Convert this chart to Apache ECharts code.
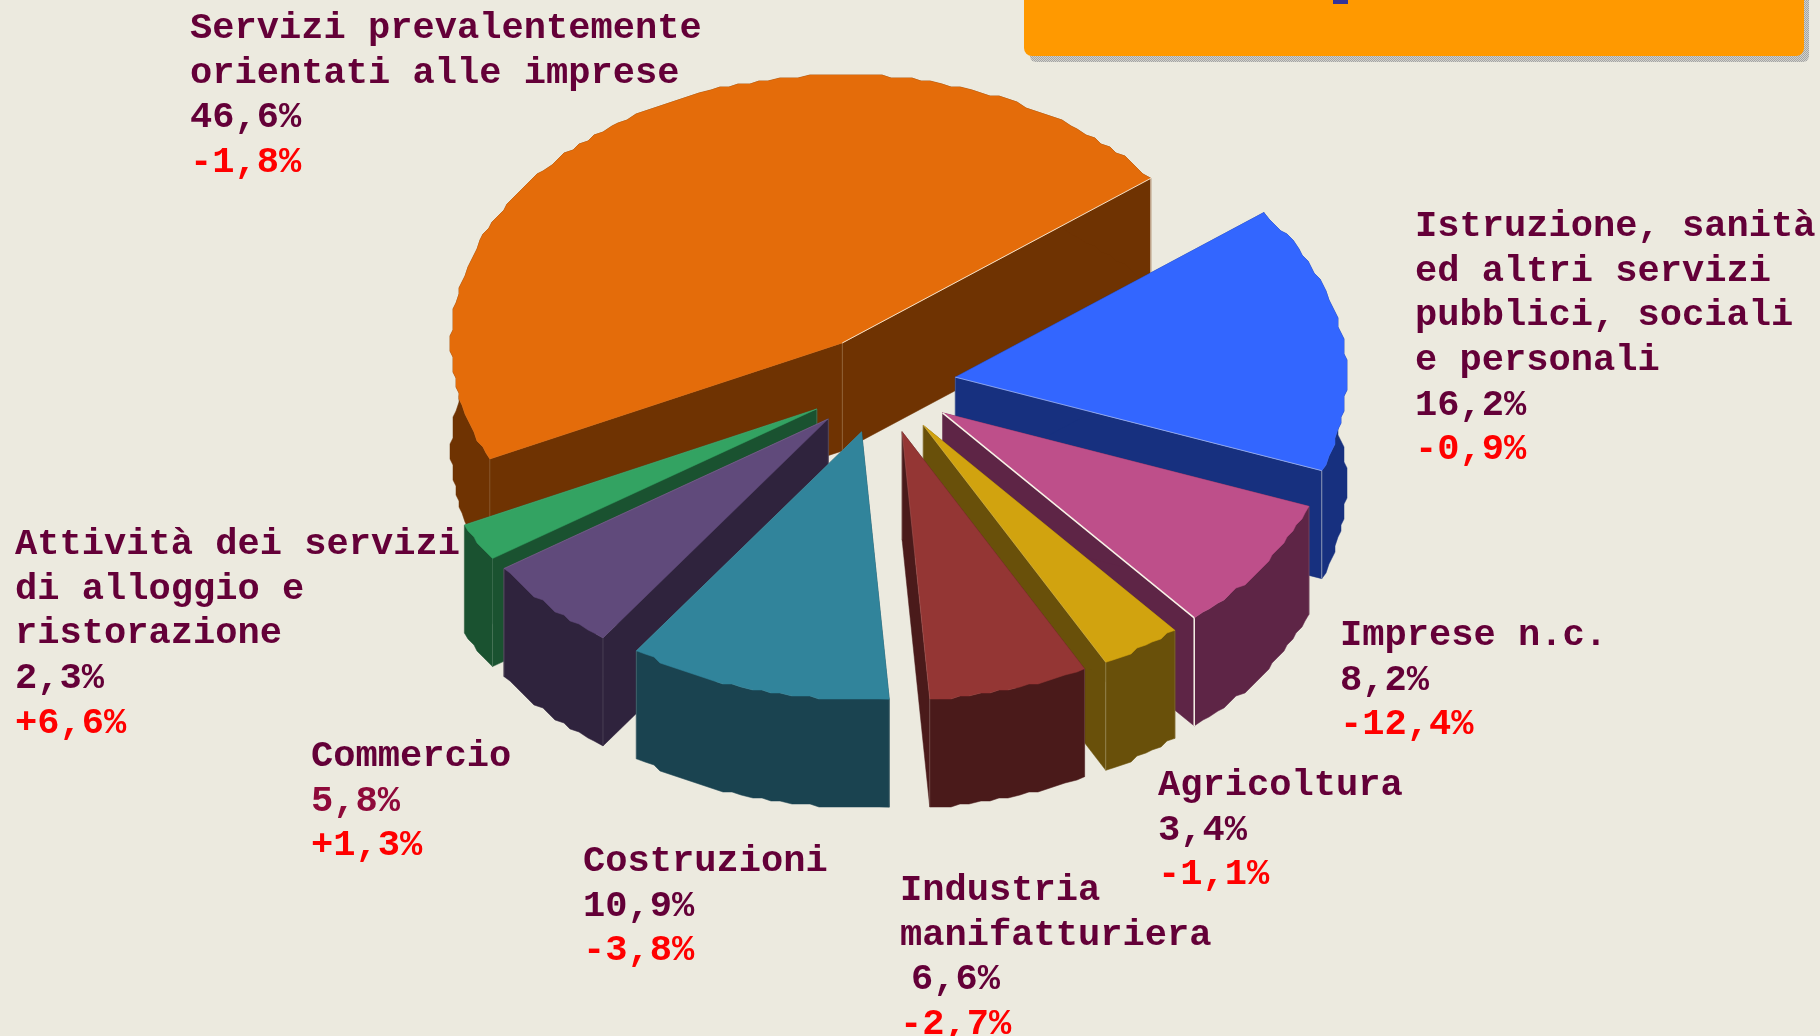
<!DOCTYPE html>
<html>
<head>
<meta charset="utf-8">
<style>html,body{margin:0;padding:0;background:#ECEADF;overflow:hidden}#c{width:1820px;height:1036px}</style>
<script src="https://cdn.jsdelivr.net/npm/echarts@6/dist/echarts.min.js"></script>
</head>
<body>
<div id="c"></div>
<script>
// Categories, counter-clockwise from the top-right edge of the largest slice
const categories = ['Servizi prevalentemente\norientati alle imprese','Attività dei servizi\ndi alloggio e\nristorazione','Commercio','Costruzioni','Industria\nmanifatturiera','Agricoltura','Imprese n.c.','Istruzione, sanità\ned altri servizi\npubblici, sociali\ne personali'];
const shareValues = [46.6, 2.3, 5.8, 10.9, 6.6, 3.4, 8.2, 16.2];
const shareLabels = ['46,6%','2,3%','5,8%','10,9%','6,6%','3,4%','8,2%','16,2%'];
const changeLabels = ['-1,8%','+6,6%','+1,3%','-3,8%','-2,7%','-1,1%','-12,4%','-0,9%'];

// Styling and layout
const topColors  = ['#E46C0A','#33A362','#604A7B','#31849B','#943634','#D1A30F','#BE4F8A','#3366FF'];
const sideColors = ['#6F3302','#1A5230','#2F233D','#1A4350','#4A1A1A','#69500A','#5E2546','#17307F'];
const edgeAlpha  = [0.85,0.1,0.15,0.1,0.1,0.2,1,0.45];
const paintOrder = [0,7,6,5,4,1,2,3];
const labelPos = [[190,10],[15,526],[311,738],[583,843],[900,872],[1158,767],[1340,617],[1415,208]];
const shareIndent = [0,0,0,0,11,0,0,0];
const pie = {cx:881.6, cy:384.6, a:391, b:268, depth:108, ex:74.6, ey:49, start:37.9, stepDeg:1.5, grid:3};
const lineGap = 44.7;
const total = shareValues.reduce((s,v)=>s+v,0);

function renderSlice(params, api){
  const i = params.dataIndex;
  let before = 0;
  for(let k=0;k<i;k++) before += shareValues[k];
  const a0 = pie.start + before/total*360;
  const a1 = a0 + api.value(0)/total*360;
  const mid = (a0+a1)/2*Math.PI/180;
  const ox = pie.cx + pie.ex*Math.cos(mid), oy = pie.cy - pie.ey*Math.sin(mid);
  const P = (deg)=>{const t=deg*Math.PI/180;return [ox+pie.a*Math.cos(t), oy-pie.b*Math.sin(t)];};
  const arc=[]; const steps=Math.max(3,Math.ceil((a1-a0)/pie.stepDeg));
  for(let s=0;s<=steps;s++){
    const p=P(a0+(a1-a0)*s/steps);
    // the reference's rim is visibly stepped: snap inner rim points to a coarse grid
    arc.push(s===0||s===steps?p:[Math.round(p[0]/pie.grid)*pie.grid,Math.round(p[1]/pie.grid)*pie.grid]);
  }
  const dn=(p)=>[p[0],p[1]+pie.depth];
  const first=arc[0], last=arc[arc.length-1], apex=[ox,oy];
  const outer=arc.concat(arc.slice().reverse().map(dn));
  const z=paintOrder.indexOf(i)*10;
  const poly=(pts,fill,zz)=>({type:'polygon',shape:{points:pts},style:{fill:fill,stroke:fill,lineWidth:0.5},z2:z+zz,silent:true});
  const line=(p,q,al,zz)=>({type:'line',shape:{x1:p[0],y1:p[1],x2:q[0],y2:q[1]},style:{stroke:'#F8F4E8',opacity:al,lineWidth:al>0.95?1.5:1},z2:z+zz,silent:true});
  return {type:'group',children:[
    poly([apex,first,dn(first),dn(apex)],sideColors[i],0),
    poly([apex,last,dn(last),dn(apex)],sideColors[i],0),
    poly(outer,sideColors[i],1),
    line(first,dn(first),edgeAlpha[i]*0.9+0.1,2),
    line(last,dn(last),0.15,2),
    line(apex,dn(apex),0.2,2),
    poly([apex].concat(arc),topColors[i],3),
    line(apex,first,edgeAlpha[i],4)
  ]};
}

// Text labels: one block per slice
const graphicText=[];
const font='bold 37.1px "Liberation Mono", monospace';
categories.forEach((name,i)=>{
  const rows=name.split('\n').map(t=>({t:t,c:'#640038',dx:0}));
  rows.push({t:shareLabels[i],c:i===2?'#8E0A3A':'#640038',dx:shareIndent[i]});
  rows.push({t:changeLabels[i],c:'#FF0000',dx:0});
  rows.forEach((r,j)=>graphicText.push({type:'text',x:labelPos[i][0]+r.dx,y:labelPos[i][1]+j*lineGap,z:100,
    style:{text:r.t,font:font,fill:r.c},silent:true}));
});

// halftone used by the box shadow
const tile=document.createElement('canvas'); tile.width=tile.height=2;
const tc=tile.getContext('2d');
tc.fillStyle='#D2D2CC'; tc.fillRect(0,0,2,2);
tc.fillStyle='#A4A4A4'; tc.fillRect(0,0,1,1); tc.fillRect(1,1,1,1);

const chart=echarts.init(document.getElementById('c'),null,{renderer:'canvas'});
chart.setOption({
  backgroundColor:'#ECEADF',
  animation:false,
  graphic:[
    {type:'rect',shape:{x:1030,y:-10,width:779,height:72,r:6},style:{fill:{image:tile,repeat:'repeat'}},z:1,silent:true},
    {type:'rect',shape:{x:1024,y:-10,width:780,height:66,r:8},style:{fill:'#FF9900'},z:2,silent:true},
    {type:'rect',shape:{x:1333,y:0,width:15,height:4},style:{fill:'#333399'},z:3,silent:true}
  ].concat(graphicText),
  series:[{type:'custom',coordinateSystem:'none',renderItem:renderSlice,data:shareValues.map(v=>[v]),silent:true,clip:false}]
});
</script>
</body>
</html>
